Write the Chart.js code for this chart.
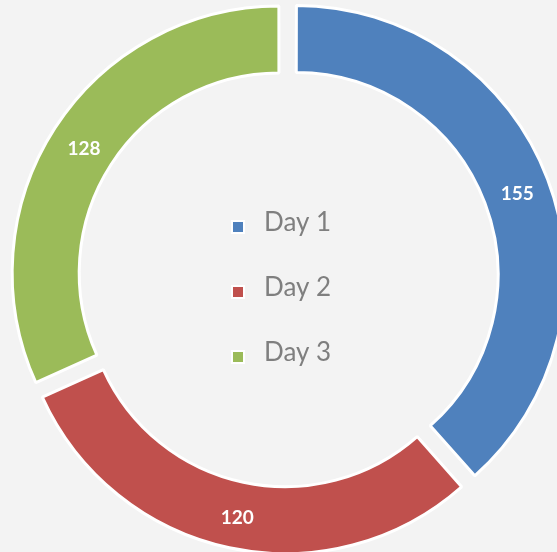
<!DOCTYPE html>
<html>
<head>
<meta charset="utf-8">
<script src="https://cdn.jsdelivr.net/npm/chart.js@4"></script>
<style>
  html, body { margin: 0; padding: 0; background: #f3f3f3; }
  #wrap { width: 557px; height: 552px; position: relative; }
</style>
</head>
<body>
<div id="wrap"><canvas id="dayChart"></canvas></div>
<script>
// Data
const labels = ['Day 1', 'Day 2', 'Day 3'];
const values = [155, 120, 128];
const colors = ['#4f81bd', '#c0504d', '#9bbb59'];

// Draw the value on each ring segment (white, bold)
const valueLabels = {
  id: 'valueLabels',
  afterDatasetsDraw(chart) {
    const ctx = chart.ctx;
    const meta = chart.getDatasetMeta(0);
    ctx.save();
    ctx.fillStyle = '#ffffff';
    ctx.font = 'bold 19px Lato';
    ctx.textAlign = 'center';
    ctx.textBaseline = 'middle';
    meta.data.forEach((arc, i) => {
      const p = arc.getProps(['x', 'y', 'startAngle', 'endAngle', 'innerRadius', 'outerRadius', 'circumference']);
      const off = (arc.options.offset || 0) / 4;
      const fix = 1 - Math.sin(Math.min(Math.PI, p.circumference || 0));
      const shift = off + off * fix;
      const mid = (p.startAngle + p.endAngle) / 2;
      const r = (p.innerRadius + p.outerRadius) / 2;
      const x = p.x + Math.cos(mid) * (shift + r);
      const y = p.y + Math.sin(mid) * (shift + r);
      ctx.fillText(String(values[i]), x + 1, y + 3);
    });
    ctx.restore();
  }
};

// Legend drawn inside the hole of the doughnut
const centerLegend = {
  id: 'centerLegend',
  afterDraw(chart) {
    const ctx = chart.ctx;
    const meta = chart.getDatasetMeta(0);
    const cx = meta.data[0].x;
    const cy = meta.data[0].y;
    const rowGap = 65;
    ctx.save();
    ctx.font = '26px Lato';
    ctx.textBaseline = 'middle';
    ctx.textAlign = 'left';
    labels.forEach((lab, i) => {
      const y = cy - 54 + i * rowGap;
      const mx = cx - 54;
      ctx.fillStyle = '#ffffff';
      ctx.fillRect(mx - 2, y - 4, 14, 14);
      ctx.fillStyle = colors[i];
      ctx.fillRect(mx, y - 2, 10, 10);
      ctx.fillStyle = '#7f7f7f';
      ctx.fillText(lab, cx - 23, y - 1);
    });
    ctx.restore();
  }
};

new Chart(document.getElementById('dayChart'), {
  type: 'doughnut',
  data: {
    labels: labels,
    datasets: [{
      data: values,
      backgroundColor: colors,
      borderColor: '#ffffff',
      borderWidth: 3,
      offset: 38,
      hoverOffset: 38
    }]
  },
  options: {
    responsive: true,
    maintainAspectRatio: false,
    animation: false,
    events: [],
    radius: 266,
    cutout: '74.8%',
    layout: { padding: { left: 17, top: 4 } },
    plugins: {
      legend: { display: false },
      tooltip: { enabled: false }
    }
  },
  plugins: [valueLabels, centerLegend]
});
</script>
</body>
</html>
